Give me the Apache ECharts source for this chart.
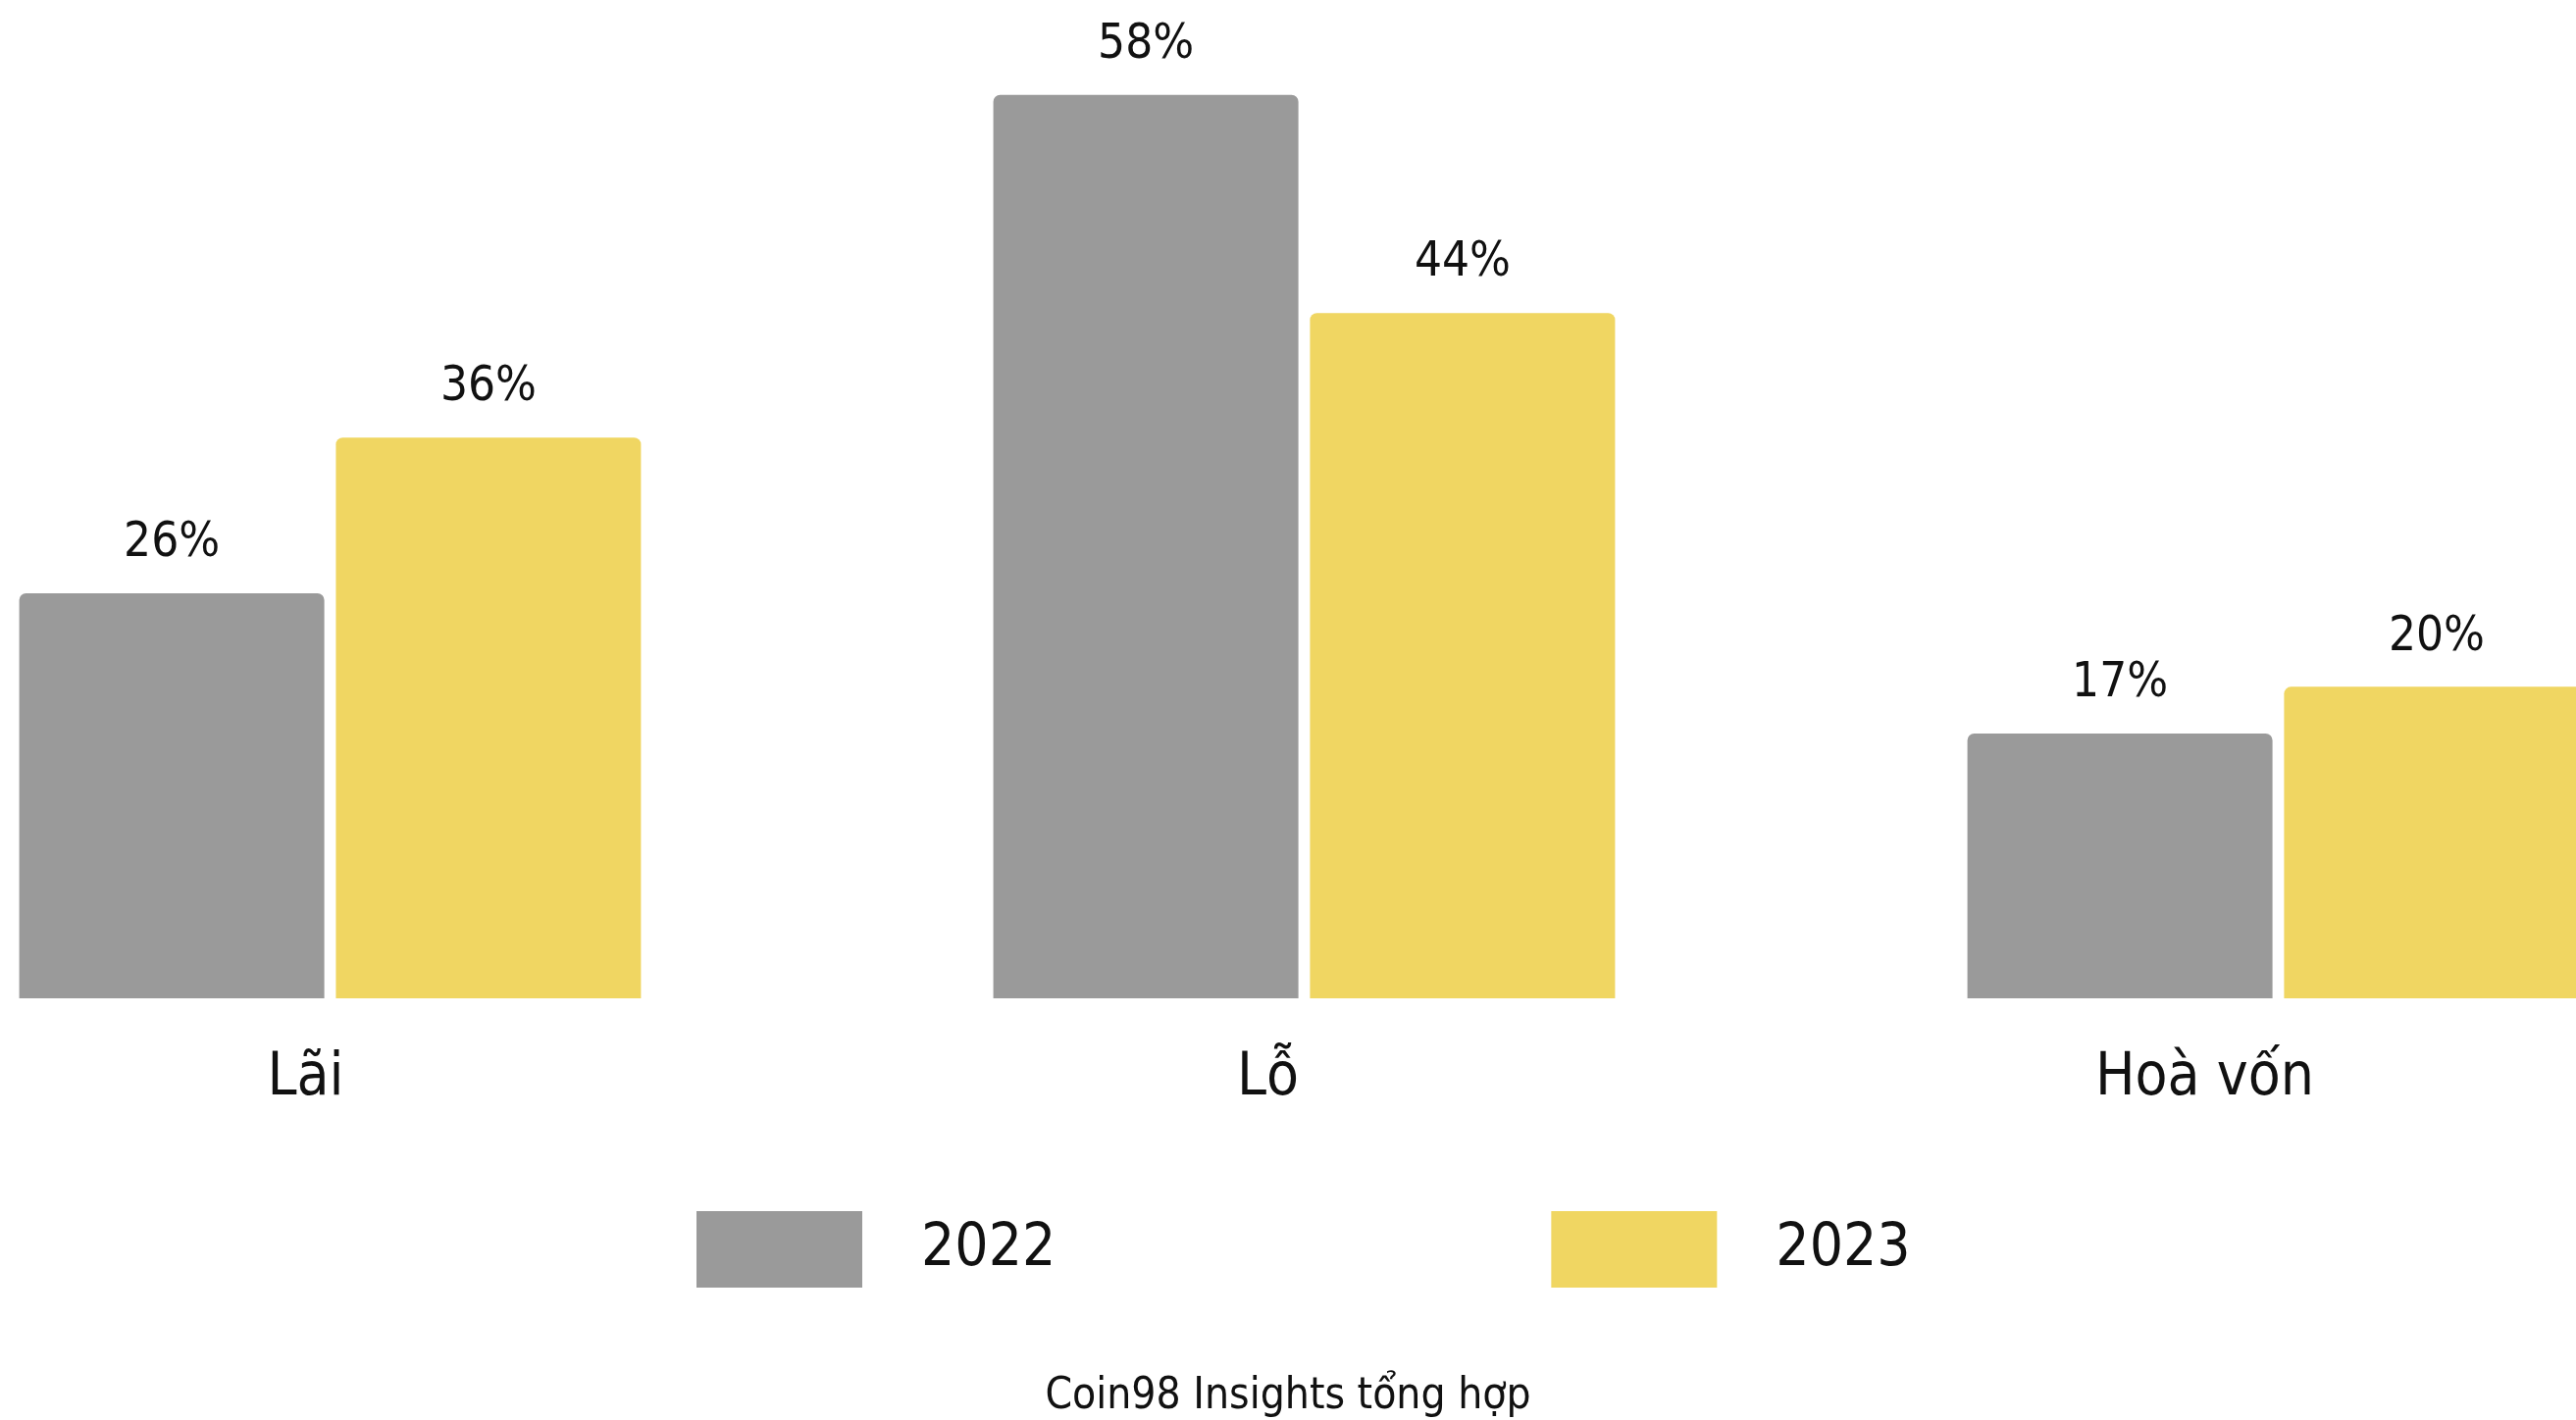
<!DOCTYPE html>
<html>
<head>
<meta charset="utf-8">
<script src="https://cdn.jsdelivr.net/npm/echarts@6/dist/echarts.min.js"></script>
<style>
html,body{margin:0;padding:0;background:#fff;}
#chart{width:2626px;height:1448px;}
</style>
</head>
<body>
<div id="chart"></div>
<script>
const categories = ['Lãi', 'Lỗ', 'Hoà vốn'];
const seriesNames = ['2022', '2023'];
const values2022 = [26, 58, 17];
const values2023 = [36, 44, 20];
const sourceText = 'Coin98 Insights tổng hợp';

// horizontal nudge of each category label (px, negative = left)
const labelNudge = [-25, -37, -75];

const FONT = "'DejaVu Sans Condensed', 'Liberation Sans Narrow', Roboto, sans-serif";
const GRAY = '#9a9a9a';
const YELLOW = '#f0d662';

const chart = echarts.init(document.getElementById('chart'));
const labelCfg = {
  show: true,
  position: 'top',
  distance: 26,
  formatter: p => p.value + '%',
  color: '#111',
  fontFamily: FONT,
  fontSize: 49
};
chart.setOption({
  animation: false,
  backgroundColor: '#ffffff',
  title: {
    text: sourceText,
    left: 'center',
    top: 1398,
    textStyle: { fontFamily: FONT, fontSize: 44, fontWeight: 'normal', color: '#111' }
  },
  legend: {
    data: seriesNames,
    left: 705,
    top: 1230,
    itemWidth: 169,
    itemHeight: 78,
    itemGap: 505,
    icon: 'rect',
    textStyle: { fontFamily: FONT, fontSize: 60, color: '#111', padding: [0, 0, 0, 55] }
  },
  grid: { left: -160, right: -193, top: 65, bottom: 430, containLabel: false, outerBoundsMode: 'none' },
  xAxis: {
    type: 'category',
    data: categories.map((c, i) => ({
      value: c,
      textStyle: labelNudge[i] < 0
        ? { padding: [0, -2 * labelNudge[i], 0, 0] }
        : { padding: [0, 0, 0, 2 * labelNudge[i]] }
    })),
    axisLine: { show: false },
    axisTick: { show: false },
    axisLabel: { margin: 52, fontFamily: FONT, fontSize: 60, color: '#111' }
  },
  yAxis: {
    type: 'value',
    min: 0,
    max: 60,
    show: false,
    splitLine: { show: false }
  },
  series: [
    {
      name: seriesNames[0],
      type: 'bar',
      data: values2022,
      barWidth: 311,
      barGap: '3.8%',
      itemStyle: { color: GRAY, borderRadius: [7, 7, 0, 0] },
      label: labelCfg
    },
    {
      name: seriesNames[1],
      type: 'bar',
      data: values2023,
      barWidth: 311,
      barGap: '3.8%',
      itemStyle: { color: YELLOW, borderRadius: [7, 7, 0, 0] },
      label: labelCfg
    }
  ]
});
</script>
</body>
</html>
